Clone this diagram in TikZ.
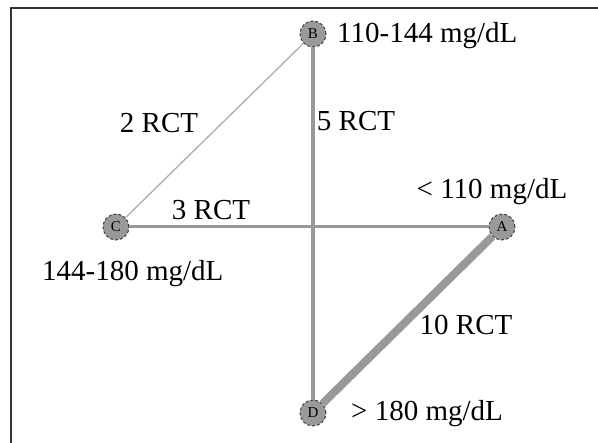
\documentclass[tikz,border=0pt]{standalone}
\usepackage{fontspec}
\setmainfont{Liberation Serif}
\usepackage{tikz}
\usetikzlibrary{positioning}

\begin{document}
\begin{tikzpicture}[
  x=1pt, y=-1pt,
  trt/.style={circle, draw=black!80, densely dashed, line width=0.9pt, fill=black!40, minimum size=26pt, inner sep=0pt, font=\fontsize{15}{15}\selectfont},
  lbl/.style={font=\fontsize{29}{32}\selectfont, inner sep=0pt},
  link/.style={draw=black!40, line cap=butt}
]
  \useasboundingbox (0,0) rectangle (598,443);
  \draw[black!80, line width=1.4pt] (11,443) -- (11,8) -- (598,8);

  \node[trt] (B) at (313,34) {B};
  \node[trt] (C) at (116,227) {C};
  \node[trt] (A) at (502,227) {A};
  \node[trt] (D) at (313,413) {D};

  \draw[link, line width=1.3pt, draw=black!32] (B) -- (C);
  \draw[link, line width=4pt] (B) -- (D);
  \draw[link, line width=3pt] (C) -- (A);
  \draw[link, line width=8pt] (A) -- (D);

  \node[lbl, anchor=base west] (lb) at (337,43) {110-144 mg/dL};
  \node[lbl, anchor=base west] (lc) at (42,281) {144-180 mg/dL};
  \node[lbl, anchor=base] (la) at (492,199) {< 110 mg/dL};
  \node[lbl, anchor=base west] (ld) at (351,421) {> 180 mg/dL};

  \node[lbl, anchor=base] (bc) at (159,133) {2 RCT};
  \node[lbl, anchor=base] (bd) at (356,131) {5 RCT};
  \node[lbl, anchor=base] (ca) at (211,220) {3 RCT};
  \node[lbl, anchor=base] (ad) at (466,335) {10 RCT};
\end{tikzpicture}
\end{document}
